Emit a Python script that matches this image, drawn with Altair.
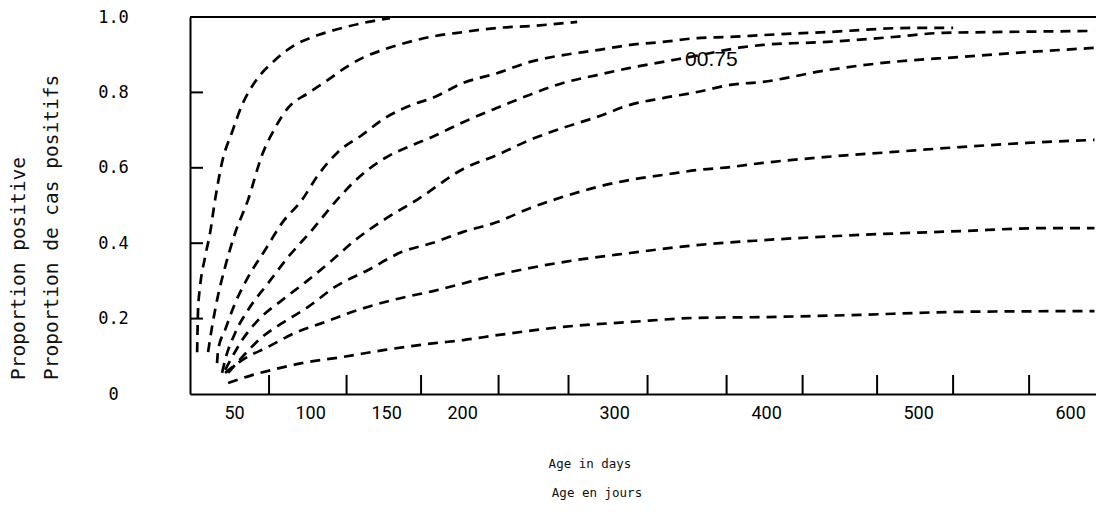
import altair as alt
import pandas as pd

# ---- data (x = age in days, y = proportion positive) ----
c1_days = [25.7, 26.3, 27.6, 30.9, 34.2, 37.5, 42.1, 48.7, 55.3, 63.8, 77.0, 90.1, 105.3, 121.1, 138.2, 152.6]
c1_prop = [0.111, 0.223, 0.284, 0.363, 0.427, 0.515, 0.615, 0.695, 0.767, 0.828, 0.886, 0.926, 0.952, 0.971, 0.987, 0.997]

c2_days = [32.9, 35.5, 38.8, 44.1, 50.7, 59.2, 68.4, 77.0, 85.5, 98.7, 109.9, 123.0, 134.2, 147.4, 162.5, 178.9, 200.7, 223.0, 244.7, 275.7]
c2_prop = [0.111, 0.178, 0.249, 0.337, 0.427, 0.515, 0.634, 0.706, 0.759, 0.798, 0.828, 0.865, 0.891, 0.912, 0.931, 0.947, 0.960, 0.971, 0.976, 0.987]

c3_days = [38.8, 39.5, 44.1, 50.7, 59.2, 70.4, 81.6, 94.7, 105.3, 118.4, 134.2, 149.3, 167.1, 180.3, 200.7, 223.0, 244.7, 266.4, 288.8, 310.5, 332.2, 354.6, 376.3, 398.0, 440.1, 494.7, 523.0]
c3_prop = [0.082, 0.117, 0.170, 0.241, 0.310, 0.382, 0.454, 0.515, 0.581, 0.642, 0.687, 0.732, 0.767, 0.785, 0.825, 0.851, 0.881, 0.899, 0.912, 0.926, 0.934, 0.944, 0.947, 0.952, 0.960, 0.971, 0.971]

c4_days = [42.1, 44.1, 50.7, 59.2, 72.4, 85.5, 101.3, 116.4, 131.6, 149.3, 167.1, 180.3, 200.7, 223.0, 244.7, 266.4, 288.8, 310.5, 332.2, 356.6, 384.9, 398.0, 440.1, 483.6, 516.4, 549.3, 616.0]
c4_prop = [0.056, 0.090, 0.162, 0.223, 0.294, 0.363, 0.435, 0.509, 0.573, 0.626, 0.660, 0.682, 0.721, 0.759, 0.794, 0.825, 0.846, 0.865, 0.881, 0.899, 0.920, 0.926, 0.934, 0.947, 0.958, 0.960, 0.963]

c5_days = [44.1, 48.7, 55.3, 65.8, 81.6, 98.7, 114.5, 129.6, 149.3, 171.1, 200.7, 223.0, 244.7, 266.4, 288.8, 310.5, 332.2, 354.6, 376.3, 398.0, 440.1, 483.6, 527.6, 571.7, 616.0]
c5_prop = [0.064, 0.098, 0.143, 0.196, 0.249, 0.302, 0.355, 0.408, 0.464, 0.517, 0.597, 0.634, 0.674, 0.706, 0.735, 0.767, 0.785, 0.801, 0.820, 0.828, 0.859, 0.881, 0.894, 0.907, 0.918]

c6_days = [46.1, 55.3, 68.4, 81.6, 98.7, 116.4, 138.2, 160.5, 180.9, 200.7, 223.0, 244.7, 266.4, 288.8, 310.5, 332.2, 354.6, 376.3, 398.0, 440.1, 483.6, 527.6, 571.7, 616.0]
c6_prop = [0.056, 0.098, 0.151, 0.188, 0.231, 0.284, 0.329, 0.377, 0.401, 0.430, 0.456, 0.493, 0.523, 0.549, 0.568, 0.581, 0.594, 0.602, 0.613, 0.629, 0.642, 0.655, 0.666, 0.674]

c7_days = [44.1, 55.3, 72.4, 90.1, 109.9, 131.6, 153.9, 180.9, 223.0, 266.4, 310.5, 354.6, 398.0, 461.8, 527.6, 582.2, 616.0]
c7_prop = [0.056, 0.090, 0.125, 0.162, 0.191, 0.223, 0.249, 0.273, 0.316, 0.350, 0.374, 0.395, 0.408, 0.422, 0.432, 0.440, 0.440]

c8_days = [46.1, 61.8, 75.0, 94.7, 121.1, 149.3, 182.2, 200.7, 223.0, 266.4, 310.5, 354.6, 398.0, 461.8, 527.6, 616.0]
c8_prop = [0.029, 0.050, 0.064, 0.082, 0.098, 0.117, 0.135, 0.143, 0.156, 0.178, 0.191, 0.202, 0.204, 0.210, 0.218, 0.220]

x_label_values = [50, 100, 150, 200, 300, 400, 500, 600]
y_label_values = [0, 0.2, 0.4, 0.6, 0.8, 1.0]
x_inner_ticks = [73, 124, 173, 224, 270, 322, 374, 424, 473, 523, 573]
y_inner_ticks = [0.2, 0.4, 0.6, 0.8]

curve_label = "00.75"
curve_label_day = 364
curve_label_prop = 0.886

y_title_1 = "Proportion positive"
y_title_2 = "Proportion de cas positifs"
x_title_1 = "Age in days"
x_title_2 = "Age en jours"

# ---- build tables ----
curves = [
    (c1_days, c1_prop), (c2_days, c2_prop), (c3_days, c3_prop), (c4_days, c4_prop),
    (c5_days, c5_prop), (c6_days, c6_prop), (c7_days, c7_prop), (c8_days, c8_prop),
]
rows = []
for i, (ds, ps) in enumerate(curves):
    for d, p in zip(ds, ps):
        rows.append({"curve": f"c{i+1}", "days": d, "prop": p})
df = pd.DataFrame(rows)

W, H = 906, 377
x_scale = alt.Scale(domain=[21, 617], nice=False, zero=False)
y_scale = alt.Scale(domain=[0, 1], nice=False)

MONO = "DejaVu Sans Mono"
NARROW = "Liberation Sans Narrow, Roboto, sans-serif"

lines = alt.Chart(df).mark_line(
    color="black", strokeWidth=2.7, strokeDash=[10, 7], interpolate="monotone"
).encode(
    x=alt.X("days:Q", scale=x_scale,
            axis=alt.Axis(values=x_label_values, title=None, grid=False, ticks=False, tickSize=0,
                          domainColor="black", domainWidth=2, labelFont=NARROW, labelFontSize=18,
                          labelColor="black", labelPadding=10, labelFlush=False, labelOverlap=False)),
    y=alt.Y("prop:Q", scale=y_scale,
            axis=alt.Axis(values=y_label_values, title=None, grid=False, ticks=False, tickSize=0,
                          domainColor="black", domainWidth=2, labelFont=MONO, labelFontSize=17,
                          labelColor="black", labelPadding=77, labelAlign="center", labelFlush=False,
                          labelOverlap=False,
                          labelExpr="datum.value == 0 ? '0' : format(datum.value, '.1f')")),
    detail="curve:N",
)

top_border = alt.Chart(pd.DataFrame({"v": [1.0]})).mark_rule(color="black", strokeWidth=2).encode(
    y=alt.Y("v:Q", scale=y_scale)
)

xt = alt.Chart(pd.DataFrame({"t": x_inner_ticks})).mark_rule(color="black", strokeWidth=2).encode(
    x=alt.X("t:Q", scale=x_scale), y=alt.value(H), y2=alt.value(H - 19)
)
yt = alt.Chart(pd.DataFrame({"t": y_inner_ticks})).mark_rule(color="black", strokeWidth=2).encode(
    y=alt.Y("t:Q", scale=y_scale), x=alt.value(0), x2=alt.value(13)
)

lbl = alt.Chart(pd.DataFrame({"d": [curve_label_day], "p": [curve_label_prop], "t": [curve_label]})).mark_text(
    font="Liberation Sans", fontSize=21, color="black", align="center", baseline="middle"
).encode(x=alt.X("d:Q", scale=x_scale), y=alt.Y("p:Q", scale=y_scale), text="t:N")

def free_text(txt, x, y, size, angle=0, align="left"):
    kw = dict(font=MONO, fontSize=size, color="#111", align=align, baseline="middle")
    if angle:
        kw["angle"] = angle
    return alt.Chart(pd.DataFrame({"t": [txt]})).mark_text(**kw).encode(
        x=alt.value(x), y=alt.value(y), text="t:N"
    )

yt1 = free_text(y_title_1, -171, 363, 19.5, angle=270)
yt2 = free_text(y_title_2, -138, 363, 19.5, angle=270)
xt1 = free_text(x_title_1, 400, 447, 12.5, align="center")
xt2 = free_text(x_title_2, 407, 476, 12.5, align="center")

chart = alt.layer(lines, top_border, xt, yt, lbl, yt1, yt2, xt1, xt2).properties(
    width=W, height=H,
    autosize=alt.AutoSizeParams(type="none"),
    padding={"left": 182, "top": 9, "right": 0, "bottom": 108},
    background="white",
).configure_view(stroke=None)

chart.save("out.html", embed_options={"renderer": "svg", "actions": False})
